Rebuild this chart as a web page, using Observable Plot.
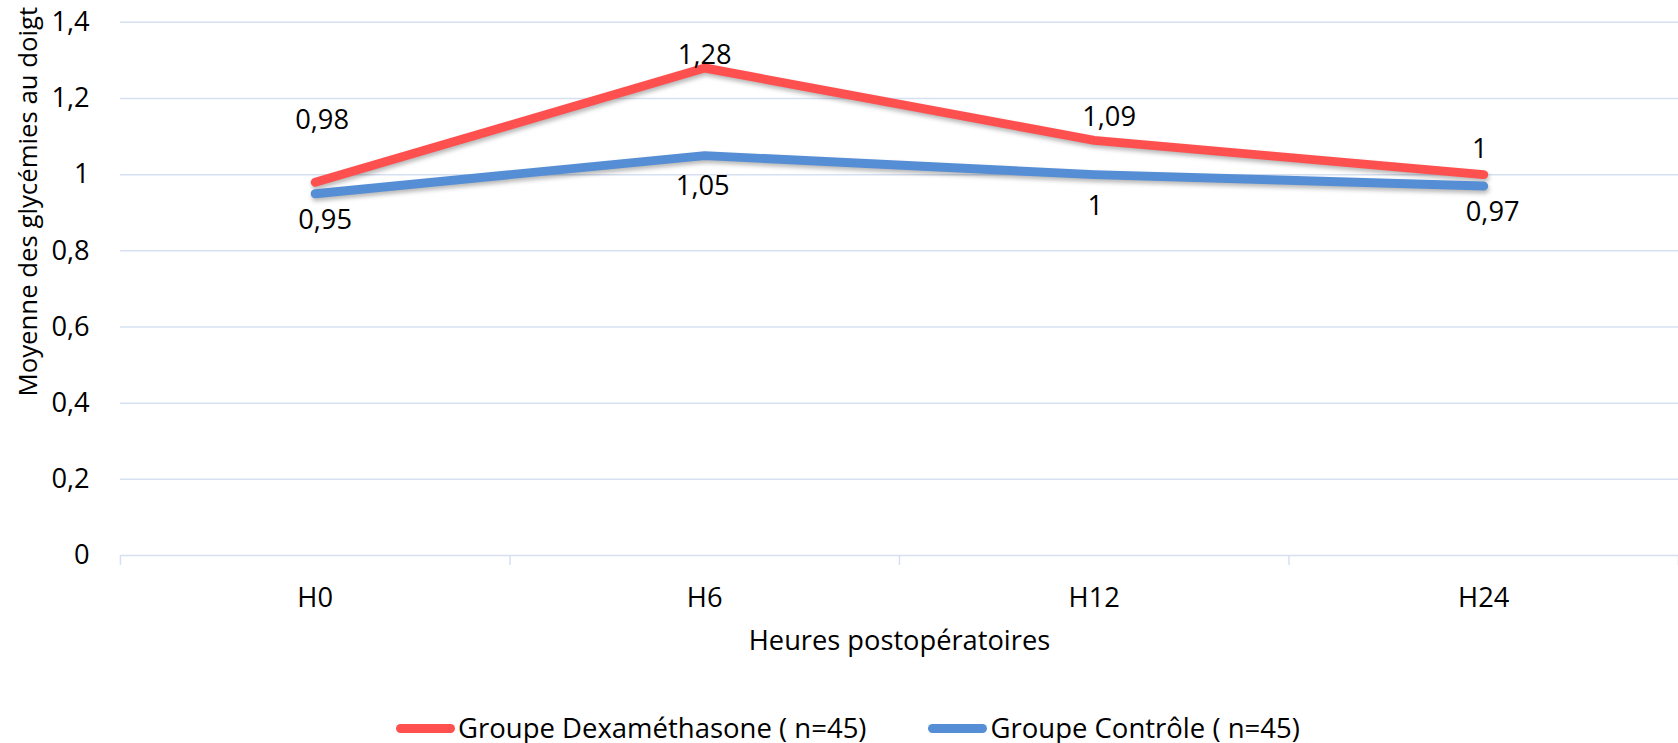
<!DOCTYPE html>
<html lang="fr">
<head>
<meta charset="utf-8">
<title>Moyenne des glycémies au doigt</title>
<script src="https://cdn.jsdelivr.net/npm/d3@7"></script>
<script src="https://cdn.jsdelivr.net/npm/@observablehq/plot@0.6"></script>
<style>
  html, body { margin: 0; padding: 0; background: #fff; overflow: hidden; }
  body { width: 1678px; height: 743px; position: relative; font-family: "Open Sans", sans-serif; color: #000; }
  #chart svg g[aria-label="line"] { filter: drop-shadow(1px 3px 2px rgba(0, 0, 0, 0.28)); }
  #legend { position: absolute; top: 713px; left: 396px; height: 30px; display: flex; align-items: center; font-size: 27.5px; line-height: 1; white-space: nowrap; }
  #legend .item { display: flex; align-items: center; }
  #legend .item + .item { margin-left: 62px; }
  #legend .swatch { display: inline-block; width: 59px; height: 9px; border-radius: 5px; margin-right: 3px; }
</style>
</head>
<body>
<div id="chart"></div>
<div id="legend"></div>
<script>
// Postoperative hours (categories)
const hours = ["H0", "H6", "H12", "H24"];
// Series names
const seriesNames = ["Groupe Dexaméthasone ( n=45)", "Groupe Contrôle ( n=45)"];
// Mean finger-stick glycaemia per group
const dexamethasone = [0.98, 1.28, 1.09, 1];
const controle = [0.95, 1.05, 1, 0.97];
// Y-axis ticks
const yTicks = [0, 0.2, 0.4, 0.6, 0.8, 1, 1.2, 1.4];

const colors = ["#ff5050", "#558ed5"];
const gridColor = "#d6e0f1";
const fontSize = 27.5;

// Small pixel nudges for each value label (dx, dy), red above, blue below
const labelNudge = [
  [[7, -63], [0, -13], [15, -23], [-4, -26]],
  [[10, 27], [-2, 31], [1, 32], [9, 26]]
];

const rows = [dexamethasone, controle].flatMap((values, s) =>
  values.map((value, i) => ({
    series: seriesNames[s],
    i,
    value,
    dx: labelNudge[s][i][0],
    dy: labelNudge[s][i][1]
  }))
);

const fmt = (d) => String(d).replace(".", ",");
// Category band boundaries, where the x-axis tick marks sit
const boundaries = d3.range(hours.length + 1).map((k) => k - 0.5);

const labelMarks = rows.map((r) =>
  Plot.text([r], {
    x: "i",
    y: "value",
    text: (d) => fmt(d.value),
    dx: r.dx,
    dy: r.dy,
    fontSize,
    fill: "#000"
  })
);

const chart = Plot.plot({
  width: 1693,
  height: 705,
  marginLeft: 121,
  marginRight: 0,
  marginTop: 22,
  marginBottom: 145,
  style: { fontFamily: "'Open Sans', sans-serif", fontSize: fontSize + "px", color: "#000", background: "transparent" },
  x: { type: "linear", domain: [-0.5, hours.length - 0.5], axis: null },
  y: { domain: [0, 1.4], axis: null },
  color: { domain: seriesNames, range: colors },
  marks: [
    Plot.gridY(yTicks, { stroke: gridColor, strokeOpacity: 1, strokeWidth: 1.5 }),
    Plot.ruleX(boundaries, { y1: 0, y2: 0, insetBottom: -10, stroke: gridColor, strokeWidth: 1.5 }),
    Plot.axisX(d3.range(hours.length), {
      tickFormat: (i) => hours[i],
      tickSize: 0,
      tickPadding: 32,
      fontSize,
      label: null
    }),
    Plot.axisY(yTicks, {
      tickFormat: fmt,
      tickSize: 0,
      tickPadding: 31,
      fontSize,
      label: null
    }),
    Plot.line(rows, {
      x: "i",
      y: "value",
      z: "series",
      stroke: "series",
      strokeWidth: 9,
      strokeLinecap: "round",
      strokeLinejoin: "round"
    }),
    ...labelMarks,
    Plot.text(["Heures postopératoires"], {
      frameAnchor: "bottom",
      dx: 0,
      dy: 87,
      lineAnchor: "middle",
      fontSize,
      fill: "#000"
    }),
    Plot.text(["Moyenne des glycémies au doigt"], {
      frameAnchor: "left",
      rotate: -90,
      textAnchor: "middle",
      lineAnchor: "middle",
      dx: -92,
      dy: -88,
      fontSize: 26,
      fill: "#000"
    })
  ]
});

document.getElementById("chart").appendChild(chart);

// Legend below the chart
const legend = document.getElementById("legend");
seriesNames.forEach((name, s) => {
  const item = document.createElement("div");
  item.className = "item";
  const sw = document.createElement("span");
  sw.className = "swatch";
  sw.style.background = colors[s];
  const label = document.createElement("span");
  label.textContent = name;
  item.appendChild(sw);
  item.appendChild(label);
  legend.appendChild(item);
});
</script>
</body>
</html>
